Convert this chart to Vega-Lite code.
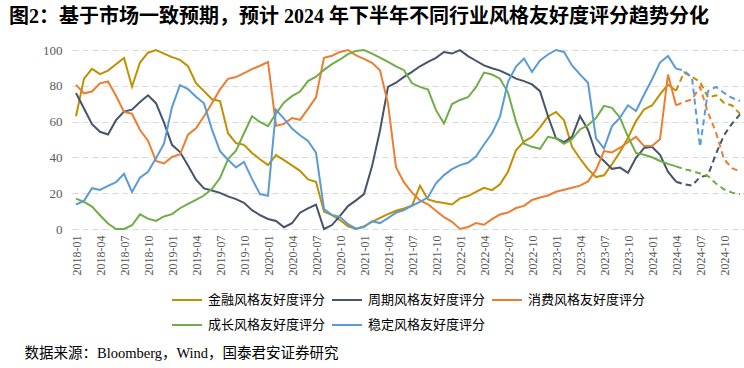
{
"$schema": "https://vega.github.io/schema/vega-lite/v6.json",
"width": 672, "height": 179,
"autosize": {"type": "none"},
"padding": {"left": 72, "top": 50, "right": 0, "bottom": 139},
"background": "#ffffff",
"title": {"text": "图2：基于市场一致预期，预计 2024 年下半年不同行业风格友好度评分趋势分化", "anchor": "start", "frame": "group", "dx": -63, "offset": 17, "fontSize": 20, "fontWeight": "bold", "color": "#000000"},
"config": {"view": {"stroke": null}, "font": "Liberation Serif, Noto Sans CJK SC"},
"data": {"values": [
{"d":"2018-01","s":"金融","v":63},{"d":"2018-02","s":"金融","v":84},{"d":"2018-03","s":"金融","v":89.5},{"d":"2018-04","s":"金融","v":86.5},{"d":"2018-05","s":"金融","v":88.5},{"d":"2018-06","s":"金融","v":92},{"d":"2018-07","s":"金融","v":95.5},{"d":"2018-08","s":"金融","v":79.5},{"d":"2018-09","s":"金融","v":93},{"d":"2018-10","s":"金融","v":98.5},{"d":"2018-11","s":"金融","v":100},{"d":"2018-12","s":"金融","v":98},
{"d":"2019-01","s":"金融","v":96},{"d":"2019-02","s":"金融","v":94.5},{"d":"2019-03","s":"金融","v":91},{"d":"2019-04","s":"金融","v":81.5},{"d":"2019-05","s":"金融","v":77},{"d":"2019-06","s":"金融","v":72.5},{"d":"2019-07","s":"金融","v":71.5},{"d":"2019-08","s":"金融","v":53.5},{"d":"2019-09","s":"金融","v":48},{"d":"2019-10","s":"金融","v":47},{"d":"2019-11","s":"金融","v":42.5},{"d":"2019-12","s":"金融","v":39},
{"d":"2020-01","s":"金融","v":35.7},{"d":"2020-02","s":"金融","v":41.3},{"d":"2020-03","s":"金融","v":38.5},{"d":"2020-04","s":"金融","v":35.5},{"d":"2020-05","s":"金融","v":32.5},{"d":"2020-06","s":"金融","v":27.7},{"d":"2020-07","s":"金融","v":26.4},{"d":"2020-08","s":"金融","v":9.7},{"d":"2020-09","s":"金融","v":7.8},{"d":"2020-10","s":"金融","v":5},{"d":"2020-11","s":"金融","v":1.5},{"d":"2020-12","s":"金融","v":0},
{"d":"2021-01","s":"金融","v":1.5},{"d":"2021-02","s":"金融","v":4},{"d":"2021-03","s":"金融","v":6.2},{"d":"2021-04","s":"金融","v":8.3},{"d":"2021-05","s":"金融","v":10.2},{"d":"2021-06","s":"金融","v":11.5},{"d":"2021-07","s":"金融","v":13},{"d":"2021-08","s":"金融","v":24.2},{"d":"2021-09","s":"金融","v":16.5},{"d":"2021-10","s":"金融","v":15.2},{"d":"2021-11","s":"金融","v":14.5},{"d":"2021-12","s":"金融","v":13.7},
{"d":"2022-01","s":"金融","v":17.1},{"d":"2022-02","s":"金融","v":18.4},{"d":"2022-03","s":"金融","v":20.8},{"d":"2022-04","s":"金融","v":23},{"d":"2022-05","s":"金融","v":21.7},{"d":"2022-06","s":"金融","v":25},{"d":"2022-07","s":"金融","v":32},{"d":"2022-08","s":"金融","v":44},{"d":"2022-09","s":"金融","v":48.8},{"d":"2022-10","s":"金融","v":51.5},{"d":"2022-11","s":"金融","v":56.8},{"d":"2022-12","s":"金融","v":62.8},
{"d":"2023-01","s":"金融","v":65.4},{"d":"2023-02","s":"金融","v":60.8},{"d":"2023-03","s":"金融","v":45.9},{"d":"2023-04","s":"金融","v":39.4},{"d":"2023-05","s":"金融","v":33.4},{"d":"2023-06","s":"金融","v":29},{"d":"2023-07","s":"金融","v":30},{"d":"2023-08","s":"金融","v":36.2},{"d":"2023-09","s":"金融","v":43},{"d":"2023-10","s":"金融","v":51},{"d":"2023-11","s":"金融","v":60.3},{"d":"2023-12","s":"金融","v":66.8},
{"d":"2024-01","s":"金融","v":69},{"d":"2024-02","s":"金融","v":75.2},{"d":"2024-03","s":"金融","v":80.7},{"d":"2024-04","s":"金融","v":77.2},{"d":"2024-05","s":"金融","v":87.5},{"d":"2024-06","s":"金融","v":85},{"d":"2024-07","s":"金融","v":82.2},{"d":"2024-08","s":"金融","v":73.5},{"d":"2024-09","s":"金融","v":74.7},{"d":"2024-10","s":"金融","v":70.5},{"d":"2024-11","s":"金融","v":69},{"d":"2024-12","s":"金融","v":64.3},
{"d":"2018-01","s":"周期","v":76},{"d":"2018-02","s":"周期","v":67.3},{"d":"2018-03","s":"周期","v":58.6},{"d":"2018-04","s":"周期","v":54.3},{"d":"2018-05","s":"周期","v":52.8},{"d":"2018-06","s":"周期","v":60.8},{"d":"2018-07","s":"周期","v":65.6},{"d":"2018-08","s":"周期","v":66.7},{"d":"2018-09","s":"周期","v":71},{"d":"2018-10","s":"周期","v":74.7},{"d":"2018-11","s":"周期","v":70.3},{"d":"2018-12","s":"周期","v":59.4},
{"d":"2019-01","s":"周期","v":47},{"d":"2019-02","s":"周期","v":43},{"d":"2019-03","s":"周期","v":35.5},{"d":"2019-04","s":"周期","v":27.5},{"d":"2019-05","s":"周期","v":22.7},{"d":"2019-06","s":"周期","v":21.5},{"d":"2019-07","s":"周期","v":20.2},{"d":"2019-08","s":"周期","v":18.2},{"d":"2019-09","s":"周期","v":16.7},{"d":"2019-10","s":"周期","v":14.6},{"d":"2019-11","s":"周期","v":10.5},{"d":"2019-12","s":"周期","v":7.8},
{"d":"2020-01","s":"周期","v":5.6},{"d":"2020-02","s":"周期","v":4.5},{"d":"2020-03","s":"周期","v":1},{"d":"2020-04","s":"周期","v":3.2},{"d":"2020-05","s":"周期","v":9.1},{"d":"2020-06","s":"周期","v":11.5},{"d":"2020-07","s":"周期","v":13.6},{"d":"2020-08","s":"周期","v":0},{"d":"2020-09","s":"周期","v":2.2},{"d":"2020-10","s":"周期","v":7.3},{"d":"2020-11","s":"周期","v":12.8},{"d":"2020-12","s":"周期","v":16},
{"d":"2021-01","s":"周期","v":19.5},{"d":"2021-02","s":"周期","v":35},{"d":"2021-03","s":"周期","v":55},{"d":"2021-04","s":"周期","v":79.4},{"d":"2021-05","s":"周期","v":81.7},{"d":"2021-06","s":"周期","v":85},{"d":"2021-07","s":"周期","v":87.8},{"d":"2021-08","s":"周期","v":90.9},{"d":"2021-09","s":"周期","v":93.3},{"d":"2021-10","s":"周期","v":95.6},{"d":"2021-11","s":"周期","v":98.9},{"d":"2021-12","s":"周期","v":98},
{"d":"2022-01","s":"周期","v":99.9},{"d":"2022-02","s":"周期","v":96.6},{"d":"2022-03","s":"周期","v":94},{"d":"2022-04","s":"周期","v":91.4},{"d":"2022-05","s":"周期","v":89.8},{"d":"2022-06","s":"周期","v":88.5},{"d":"2022-07","s":"周期","v":86.4},{"d":"2022-08","s":"周期","v":84},{"d":"2022-09","s":"周期","v":82.6},{"d":"2022-10","s":"周期","v":80.8},{"d":"2022-11","s":"周期","v":77},{"d":"2022-12","s":"周期","v":63},
{"d":"2023-01","s":"周期","v":50.7},{"d":"2023-02","s":"周期","v":48.5},{"d":"2023-03","s":"周期","v":51.5},{"d":"2023-04","s":"周期","v":63.1},{"d":"2023-05","s":"周期","v":55.4},{"d":"2023-06","s":"周期","v":42.2},{"d":"2023-07","s":"周期","v":38},{"d":"2023-08","s":"周期","v":33.6},{"d":"2023-09","s":"周期","v":34.3},{"d":"2023-10","s":"周期","v":31.4},{"d":"2023-11","s":"周期","v":39.8},{"d":"2023-12","s":"周期","v":45.2},
{"d":"2024-01","s":"周期","v":45.9},{"d":"2024-02","s":"周期","v":41.4},{"d":"2024-03","s":"周期","v":32},{"d":"2024-04","s":"周期","v":26.4},{"d":"2024-05","s":"周期","v":25},{"d":"2024-06","s":"周期","v":24.3},{"d":"2024-07","s":"周期","v":29},{"d":"2024-08","s":"周期","v":30.1},{"d":"2024-09","s":"周期","v":42},{"d":"2024-10","s":"周期","v":52.4},{"d":"2024-11","s":"周期","v":58.9},{"d":"2024-12","s":"周期","v":64},
{"d":"2018-01","s":"消费","v":80.5},{"d":"2018-02","s":"消费","v":75.8},{"d":"2018-03","s":"消费","v":76.8},{"d":"2018-04","s":"消费","v":81.4},{"d":"2018-05","s":"消费","v":82.4},{"d":"2018-06","s":"消费","v":74.4},{"d":"2018-07","s":"消费","v":65.4},{"d":"2018-08","s":"消费","v":64.4},{"d":"2018-09","s":"消费","v":55.3},{"d":"2018-10","s":"消费","v":49.3},{"d":"2018-11","s":"消费","v":38},{"d":"2018-12","s":"消费","v":36.6},
{"d":"2019-01","s":"消费","v":40.3},{"d":"2019-02","s":"消费","v":41.6},{"d":"2019-03","s":"消费","v":52.7},{"d":"2019-04","s":"消费","v":56.3},{"d":"2019-05","s":"消费","v":63},{"d":"2019-06","s":"消费","v":70.2},{"d":"2019-07","s":"消费","v":78},{"d":"2019-08","s":"消费","v":83.9},{"d":"2019-09","s":"消费","v":84.9},{"d":"2019-10","s":"消费","v":87.1},{"d":"2019-11","s":"消费","v":89.3},{"d":"2019-12","s":"消费","v":91.2},
{"d":"2020-01","s":"消费","v":93.3},{"d":"2020-02","s":"消费","v":57.7},{"d":"2020-03","s":"消费","v":58.7},{"d":"2020-04","s":"消费","v":62},{"d":"2020-05","s":"消费","v":61},{"d":"2020-06","s":"消费","v":67.1},{"d":"2020-07","s":"消费","v":73.6},{"d":"2020-08","s":"消费","v":95.6},{"d":"2020-09","s":"消费","v":96.8},{"d":"2020-10","s":"消费","v":98.9},{"d":"2020-11","s":"消费","v":100},{"d":"2020-12","s":"消费","v":97},
{"d":"2021-01","s":"消费","v":95},{"d":"2021-02","s":"消费","v":92.8},{"d":"2021-03","s":"消费","v":88.7},{"d":"2021-04","s":"消费","v":70},{"d":"2021-05","s":"消费","v":34.5},{"d":"2021-06","s":"消费","v":26},{"d":"2021-07","s":"消费","v":20.3},{"d":"2021-08","s":"消费","v":16},{"d":"2021-09","s":"消费","v":13.8},{"d":"2021-10","s":"消费","v":10.2},{"d":"2021-11","s":"消费","v":6.6},{"d":"2021-12","s":"消费","v":4},
{"d":"2022-01","s":"消费","v":0},{"d":"2022-02","s":"消费","v":1.1},{"d":"2022-03","s":"消费","v":3.3},{"d":"2022-04","s":"消费","v":2.4},{"d":"2022-05","s":"消费","v":5.5},{"d":"2022-06","s":"消费","v":8.1},{"d":"2022-07","s":"消费","v":9.2},{"d":"2022-08","s":"消费","v":11.7},{"d":"2022-09","s":"消费","v":12.9},{"d":"2022-10","s":"消费","v":16.2},{"d":"2022-11","s":"消费","v":17.6},{"d":"2022-12","s":"消费","v":18.7},
{"d":"2023-01","s":"消费","v":20.8},{"d":"2023-02","s":"消费","v":21.9},{"d":"2023-03","s":"消费","v":23},{"d":"2023-04","s":"消费","v":24.2},{"d":"2023-05","s":"消费","v":26.6},{"d":"2023-06","s":"消费","v":33},{"d":"2023-07","s":"消费","v":43.5},{"d":"2023-08","s":"消费","v":42.8},{"d":"2023-09","s":"消费","v":45.4},{"d":"2023-10","s":"消费","v":48.5},{"d":"2023-11","s":"消费","v":51.5},{"d":"2023-12","s":"消费","v":46.3},
{"d":"2024-01","s":"消费","v":46.3},{"d":"2024-02","s":"消费","v":50.1},{"d":"2024-03","s":"消费","v":86.3},{"d":"2024-04","s":"消费","v":69.1},{"d":"2024-05","s":"消费","v":71},{"d":"2024-06","s":"消费","v":72.4},{"d":"2024-07","s":"消费","v":79.4},{"d":"2024-08","s":"消费","v":65},{"d":"2024-09","s":"消费","v":54},{"d":"2024-10","s":"消费","v":39},{"d":"2024-11","s":"消费","v":34},{"d":"2024-12","s":"消费","v":32.2},
{"d":"2018-01","s":"成长","v":17},{"d":"2018-02","s":"成长","v":15.2},{"d":"2018-03","s":"成长","v":12.5},{"d":"2018-04","s":"成长","v":7.7},{"d":"2018-05","s":"成长","v":3.1},{"d":"2018-06","s":"成长","v":0},{"d":"2018-07","s":"成长","v":0},{"d":"2018-08","s":"成长","v":2.1},{"d":"2018-09","s":"成长","v":8.2},{"d":"2018-10","s":"成长","v":5.8},{"d":"2018-11","s":"成长","v":4.5},{"d":"2018-12","s":"成长","v":7},
{"d":"2019-01","s":"成长","v":8.3},{"d":"2019-02","s":"成长","v":11.6},{"d":"2019-03","s":"成长","v":14},{"d":"2019-04","s":"成长","v":16.3},{"d":"2019-05","s":"成长","v":18.7},{"d":"2019-06","s":"成长","v":22.5},{"d":"2019-07","s":"成长","v":28.5},{"d":"2019-08","s":"成长","v":39},{"d":"2019-09","s":"成长","v":43.8},{"d":"2019-10","s":"成长","v":53.5},{"d":"2019-11","s":"成长","v":63},{"d":"2019-12","s":"成长","v":59.8},
{"d":"2020-01","s":"成长","v":57.5},{"d":"2020-02","s":"成长","v":64.5},{"d":"2020-03","s":"成长","v":70.7},{"d":"2020-04","s":"成长","v":74.2},{"d":"2020-05","s":"成长","v":76.8},{"d":"2020-06","s":"成长","v":82.6},{"d":"2020-07","s":"成长","v":85.1},{"d":"2020-08","s":"成长","v":88.9},{"d":"2020-09","s":"成长","v":92.1},{"d":"2020-10","s":"成长","v":94.7},{"d":"2020-11","s":"成长","v":97.7},{"d":"2020-12","s":"成长","v":99.5},
{"d":"2021-01","s":"成长","v":100},{"d":"2021-02","s":"成长","v":98},{"d":"2021-03","s":"成长","v":95.7},{"d":"2021-04","s":"成长","v":93.3},{"d":"2021-05","s":"成长","v":90.9},{"d":"2021-06","s":"成长","v":88.7},{"d":"2021-07","s":"成长","v":81.4},{"d":"2021-08","s":"成长","v":79.4},{"d":"2021-09","s":"成长","v":77.9},{"d":"2021-10","s":"成长","v":66.4},{"d":"2021-11","s":"成长","v":58.9},{"d":"2021-12","s":"成长","v":69.8},
{"d":"2022-01","s":"成长","v":72.1},{"d":"2022-02","s":"成长","v":73.6},{"d":"2022-03","s":"成长","v":79.2},{"d":"2022-04","s":"成长","v":87.4},{"d":"2022-05","s":"成长","v":86.3},{"d":"2022-06","s":"成长","v":84},{"d":"2022-07","s":"成长","v":76.2},{"d":"2022-08","s":"成长","v":60},{"d":"2022-09","s":"成长","v":47.6},{"d":"2022-10","s":"成长","v":45.9},{"d":"2022-11","s":"成长","v":44.8},{"d":"2022-12","s":"成长","v":51.5},
{"d":"2023-01","s":"成长","v":50.6},{"d":"2023-02","s":"成长","v":47.6},{"d":"2023-03","s":"成长","v":50.1},{"d":"2023-04","s":"成长","v":55.6},{"d":"2023-05","s":"成长","v":58},{"d":"2023-06","s":"成长","v":62},{"d":"2023-07","s":"成长","v":68.8},{"d":"2023-08","s":"成长","v":67.7},{"d":"2023-09","s":"成长","v":62.2},{"d":"2023-10","s":"成长","v":51.5},{"d":"2023-11","s":"成长","v":42.5},{"d":"2023-12","s":"成长","v":41.5},
{"d":"2024-01","s":"成长","v":40.1},{"d":"2024-02","s":"成长","v":38},{"d":"2024-03","s":"成长","v":36.4},{"d":"2024-04","s":"成长","v":35},{"d":"2024-05","s":"成长","v":33.5},{"d":"2024-06","s":"成长","v":32.4},{"d":"2024-07","s":"成长","v":31},{"d":"2024-08","s":"成长","v":29.6},{"d":"2024-09","s":"成长","v":25.4},{"d":"2024-10","s":"成长","v":22.2},{"d":"2024-11","s":"成长","v":20.3},{"d":"2024-12","s":"成长","v":19.4},
{"d":"2018-01","s":"稳定","v":13.7},{"d":"2018-02","s":"稳定","v":15.7},{"d":"2018-03","s":"稳定","v":22.8},{"d":"2018-04","s":"稳定","v":21.8},{"d":"2018-05","s":"稳定","v":24.1},{"d":"2018-06","s":"稳定","v":26.2},{"d":"2018-07","s":"稳定","v":30.8},{"d":"2018-08","s":"稳定","v":20.7},{"d":"2018-09","s":"稳定","v":28.7},{"d":"2018-10","s":"稳定","v":32},{"d":"2018-11","s":"稳定","v":39.5},{"d":"2018-12","s":"稳定","v":47.7},
{"d":"2019-01","s":"稳定","v":68.1},{"d":"2019-02","s":"稳定","v":80.4},{"d":"2019-03","s":"稳定","v":78.2},{"d":"2019-04","s":"稳定","v":73.9},{"d":"2019-05","s":"稳定","v":70.2},{"d":"2019-06","s":"稳定","v":55.5},{"d":"2019-07","s":"稳定","v":43.5},{"d":"2019-08","s":"稳定","v":38.7},{"d":"2019-09","s":"稳定","v":34.4},{"d":"2019-10","s":"稳定","v":37.5},{"d":"2019-11","s":"稳定","v":28},{"d":"2019-12","s":"稳定","v":19.5},
{"d":"2020-01","s":"稳定","v":18.5},{"d":"2020-02","s":"稳定","v":66.6},{"d":"2020-03","s":"稳定","v":61.7},{"d":"2020-04","s":"稳定","v":56.1},{"d":"2020-05","s":"稳定","v":52.4},{"d":"2020-06","s":"稳定","v":49.2},{"d":"2020-07","s":"稳定","v":42.7},{"d":"2020-08","s":"稳定","v":11.1},{"d":"2020-09","s":"稳定","v":7.8},{"d":"2020-10","s":"稳定","v":6.8},{"d":"2020-11","s":"稳定","v":2.7},{"d":"2020-12","s":"稳定","v":0.2},
{"d":"2021-01","s":"稳定","v":1.1},{"d":"2021-02","s":"稳定","v":4.3},{"d":"2021-03","s":"稳定","v":3.3},{"d":"2021-04","s":"稳定","v":6.1},{"d":"2021-05","s":"稳定","v":9.1},{"d":"2021-06","s":"稳定","v":10.6},{"d":"2021-07","s":"稳定","v":13},{"d":"2021-08","s":"稳定","v":15.2},{"d":"2021-09","s":"稳定","v":17.7},{"d":"2021-10","s":"稳定","v":25.5},{"d":"2021-11","s":"稳定","v":30.1},{"d":"2021-12","s":"稳定","v":33.4},
{"d":"2022-01","s":"稳定","v":35.7},{"d":"2022-02","s":"稳定","v":37},{"d":"2022-03","s":"稳定","v":40.5},{"d":"2022-04","s":"稳定","v":47.2},{"d":"2022-05","s":"稳定","v":53.5},{"d":"2022-06","s":"稳定","v":62.8},{"d":"2022-07","s":"稳定","v":82.2},{"d":"2022-08","s":"稳定","v":90.7},{"d":"2022-09","s":"稳定","v":95.2},{"d":"2022-10","s":"稳定","v":87.7},{"d":"2022-11","s":"稳定","v":94.2},{"d":"2022-12","s":"稳定","v":97.5},
{"d":"2023-01","s":"稳定","v":100},{"d":"2023-02","s":"稳定","v":98.9},{"d":"2023-03","s":"稳定","v":91.4},{"d":"2023-04","s":"稳定","v":86.4},{"d":"2023-05","s":"稳定","v":81.7},{"d":"2023-06","s":"稳定","v":50.6},{"d":"2023-07","s":"稳定","v":45},{"d":"2023-08","s":"稳定","v":57.5},{"d":"2023-09","s":"稳定","v":62.2},{"d":"2023-10","s":"稳定","v":69.1},{"d":"2023-11","s":"稳定","v":65.9},{"d":"2023-12","s":"稳定","v":75},
{"d":"2024-01","s":"稳定","v":83.5},{"d":"2024-02","s":"稳定","v":93},{"d":"2024-03","s":"稳定","v":96.7},{"d":"2024-04","s":"稳定","v":89.6},{"d":"2024-05","s":"稳定","v":88.5},{"d":"2024-06","s":"稳定","v":84.5},{"d":"2024-07","s":"稳定","v":46},{"d":"2024-08","s":"稳定","v":77},{"d":"2024-09","s":"稳定","v":79.4},{"d":"2024-10","s":"稳定","v":76},{"d":"2024-11","s":"稳定","v":73.3},{"d":"2024-12","s":"稳定","v":71.5}
]},
"encoding": {
  "x": {"field": "d", "type": "ordinal", "sort": "ascending", "scale": {"type": "point", "padding": 0.5},
        "axis": {"title": "数据来源：Bloomberg，Wind，国泰君安证券研究", "titleAnchor": "start", "titleAlign": "left", "titleBaseline": "alphabetic", "titleX": -48, "titleY": 128, "titleFontSize": 14.5, "titleFontWeight": "normal", "titleColor": "#000000",
                 "labelAngle": -90, "labelExpr": "indexof(['01','04','07','10'], substring(datum.value, 5, 7)) >= 0 ? datum.value : ''", "labelOverlap": false, "labelFontSize": 12, "labelColor": "#595959", "labelPadding": 6, "ticks": false, "domain": false, "grid": false}},
  "y": {"field": "v", "type": "quantitative", "scale": {"domain": [0, 100], "nice": false},
        "axis": {"title": null, "values": [0, 20, 40, 60, 80, 100], "domain": false, "ticks": false, "grid": true, "gridDash": [6, 4], "gridColor": "#d9d9d9", "gridWidth": 1, "labelFontSize": 13, "labelColor": "#595959", "labelPadding": 10}},
  "color": {"field": "s", "type": "nominal",
            "scale": {"domain": ["金融", "周期", "消费", "成长", "稳定"], "range": ["#BF9000", "#44546A", "#ED7D31", "#70AD47", "#5B9BD5"]},
            "legend": {"title": null, "orient": "none", "legendX": 99, "legendY": 234, "direction": "horizontal", "columns": 3, "columnPadding": 2, "rowPadding": 2, "symbolType": "stroke", "symbolSize": 900, "symbolStrokeWidth": 2, "labelFontSize": 13, "labelColor": "#000000", "labelOffset": 5, "labelExpr": "datum.label + '风格友好度评分'"}}
},
"layer": [
  {"transform": [{"filter": "datum.d <= '2024-04'"}], "mark": {"type": "line", "strokeWidth": 2}},
  {"transform": [{"filter": "datum.d >= '2024-04'"}], "mark": {"type": "line", "strokeWidth": 2, "strokeDash": [6, 4]}}
]
}
